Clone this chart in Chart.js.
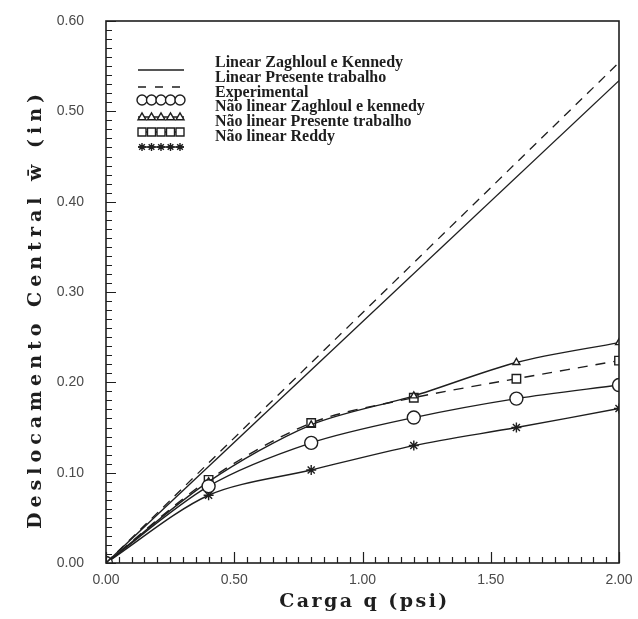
<!DOCTYPE html>
<html lang="pt">
<head>
<meta charset="UTF-8">
<title>Deslocamento central</title>
<script src="https://cdn.jsdelivr.net/npm/chart.js"></script>
<style>
    body { margin: 0; background: #fff; }
    .wrap { width: 638px; height: 619px; }
</style>
</head>
<body>
<div class="wrap"><canvas id="plot" width="638" height="619"></canvas></div>
<script>
// carga q (psi) e deslocamento central w (in)
const cargas = [0, 0.4, 0.8, 1.2, 1.6, 2.0];
const cargasLinear = [0, 2.0];
const linZaghloul = [0, 0.534];
const linPresente = [0, 0.554];
const experimental = [0, 0.085, 0.133, 0.161, 0.182, 0.197];
const naoLinZaghloul = [0, 0.090, 0.153, 0.185, 0.222, 0.244];
const naoLinPresente = [0, 0.092, 0.155, 0.183, 0.204, 0.224];
const naoLinReddy = [0, 0.075, 0.103, 0.130, 0.150, 0.171];
const xTicks = [0, 0.5, 1.0, 1.5, 2.0];
const yTicks = [0, 0.1, 0.2, 0.3, 0.4, 0.5, 0.6];
const rotulos = [
    'Linear Zaghloul e Kennedy',
    'Linear Presente trabalho',
    'Experimental',
    'Não linear Zaghloul e kennedy',
    'Não linear Presente trabalho',
    'Não linear Reddy'
];

const ink = '#1e1e1e';
function pts(xs, ys) { return xs.map((x, i) => ({ x: x, y: ys[i] })); }

const datasets = [
    { label: rotulos[0], data: pts(cargasLinear, linZaghloul), borderColor: ink, borderWidth: 1.3, pointRadius: 0 },
    { label: rotulos[1], data: pts(cargasLinear, linPresente), borderColor: ink, borderWidth: 1.3, borderDash: [9, 7], pointRadius: 0 },
    { label: rotulos[2], data: pts(cargas, experimental), borderColor: ink, borderWidth: 1.4, pointStyle: 'circle', pointRadius: 6.5 },
    { label: rotulos[3], data: pts(cargas, naoLinZaghloul), borderColor: ink, borderWidth: 1.4, pointStyle: 'triangle', pointRadius: 4 },
    { label: rotulos[4], data: pts(cargas, naoLinPresente), borderColor: ink, borderWidth: 1.4, borderDash: [10, 8], pointStyle: 'rect', pointRadius: 6 },
    { label: rotulos[5], data: pts(cargas, naoLinReddy), borderColor: ink, borderWidth: 1.4, pointStyle: 'star', pointRadius: 5 }
];
datasets.forEach(d => {
    d.backgroundColor = '#fff';
    d.pointBorderColor = ink;
    d.pointBorderWidth = 1.4;
    d.tension = 0.3;
});

// ticks internos (menores e maiores) e moldura
const ticksInternos = {
    id: 'ticksInternos',
    afterDatasetsDraw(chart) {
        const { ctx, chartArea: a, scales: { x, y } } = chart;
        ctx.save();
        ctx.strokeStyle = ink;
        ctx.lineWidth = 1.2;
        ctx.beginPath();
        for (let i = 0; i <= 60; i++) {
            const py = Math.round(y.getPixelForValue(i / 100)) + 0.5;
            const len = i % 10 === 0 ? 10 : 6;
            ctx.moveTo(a.left, py); ctx.lineTo(a.left + len, py);
        }
        for (let i = 0; i <= 40; i++) {
            const px = Math.round(x.getPixelForValue(i * 0.05)) + 0.5;
            const len = i % 10 === 0 ? 11 : 6;
            ctx.moveTo(px, a.bottom); ctx.lineTo(px, a.bottom - len);
        }
        ctx.stroke();
        ctx.lineWidth = 1.6;
        ctx.strokeRect(a.left, a.top, a.right - a.left, a.bottom - a.top);
        ctx.restore();
    }
};

// legenda desenhada dentro da area do grafico
function marcador(ctx, style, cx, cy, r) {
    ctx.beginPath();
    if (style === 'circle') {
        ctx.arc(cx, cy, r, 0, Math.PI * 2);
    } else if (style === 'triangle') {
        ctx.moveTo(cx - r, cy + r * 0.7); ctx.lineTo(cx, cy - r); ctx.lineTo(cx + r, cy + r * 0.7); ctx.closePath();
    } else if (style === 'rect') {
        ctx.rect(cx - r, cy - r, r * 2, r * 2);
    } else if (style === 'star') {
        for (let k = 0; k < 4; k++) {
            const ang = k * Math.PI / 4;
            ctx.moveTo(cx - r * Math.cos(ang), cy - r * Math.sin(ang));
            ctx.lineTo(cx + r * Math.cos(ang), cy + r * Math.sin(ang));
        }
    }
    if (style !== 'star') { ctx.fillStyle = '#fff'; ctx.fill(); }
    ctx.stroke();
}

const legenda = {
    id: 'legenda',
    afterDraw(chart) {
        const ctx = chart.ctx;
        const textoY = [63, 78, 93, 107, 122, 137];
        const simboloY = [70, 87, 100, 117, 132, 147];
        ctx.save();
        ctx.font = 'bold 16px "Liberation Serif"';
        ctx.textBaseline = 'middle';
        chart.data.datasets.forEach((d, i) => {
            ctx.fillStyle = ink;
            ctx.fillText(d.label, 215, textoY[i]);
            ctx.strokeStyle = ink;
            ctx.lineWidth = 1.4;
            ctx.setLineDash(i === 1 ? [8, 9] : []);
            ctx.beginPath();
            ctx.moveTo(138, simboloY[i]); ctx.lineTo(184, simboloY[i]);
            ctx.stroke();
            ctx.setLineDash([]);
            if (d.pointRadius > 0) {
                for (let k = 0; k < 5; k++) marcador(ctx, d.pointStyle, 142 + k * 9.5, simboloY[i], i === 2 ? 5 : 4);
            }
        });
        ctx.restore();
    }
};

// titulos dos eixos com espacamento largo
function textoEspacado(ctx, txt, largura) {
    const w = ctx.measureText(txt).width;
    ctx.letterSpacing = ((largura - w) / (txt.length - 1)).toFixed(2) + 'px';
}
const titulos = {
    id: 'titulos',
    afterDraw(chart) {
        const { ctx, chartArea: a } = chart;
        ctx.save();
        ctx.fillStyle = ink;
        ctx.font = 'bold 19px "DejaVu Serif"';
        ctx.textAlign = 'center';
        ctx.textBaseline = 'middle';
        const tx = 'Carga q (psi)';
        textoEspacado(ctx, tx, 168);
        ctx.fillText(tx, (a.left + a.right) / 2 + 2, 602);
        const ty = 'Deslocamento Central w\u0304 (in)';
        ctx.letterSpacing = '0px';
        textoEspacado(ctx, ty, 440);
        ctx.translate(36, 309);
        ctx.rotate(-Math.PI / 2);
        ctx.fillText(ty, 0, 0);
        ctx.restore();
    }
};

new Chart(document.getElementById('plot').getContext('2d'), {
    type: 'line',
    data: { datasets: datasets },
    options: {
        responsive: false,
        animation: false,
        layout: { padding: { top: 21, right: 19, left: 0, bottom: 0 } },
        plugins: { legend: { display: false }, tooltip: { enabled: false } },
        scales: {
            x: {
                type: 'linear', min: 0, max: 2,
                afterBuildTicks: s => { s.ticks = xTicks.map(v => ({ value: v })); },
                afterFit: s => { s.height = 56; s.paddingLeft = 0; s.paddingRight = 0; },
                grid: { display: false, drawTicks: false },
                border: { display: false },
                ticks: { padding: 9, color: '#4a4a4a', font: { family: 'Liberation Sans', size: 14 }, callback: v => v.toFixed(2) }
            },
            y: {
                type: 'linear', min: 0, max: 0.6,
                afterBuildTicks: s => { s.ticks = yTicks.map(v => ({ value: v })); },
                afterFit: s => { s.width = 106; s.paddingTop = 0; s.paddingBottom = 0; },
                grid: { display: false, drawTicks: false },
                border: { display: false },
                ticks: { padding: 22, color: '#4a4a4a', font: { family: 'Liberation Sans', size: 14 }, callback: v => v.toFixed(2) }
            }
        }
    },
    plugins: [ticksInternos, legenda, titulos]
});
</script>
</body>
</html>
